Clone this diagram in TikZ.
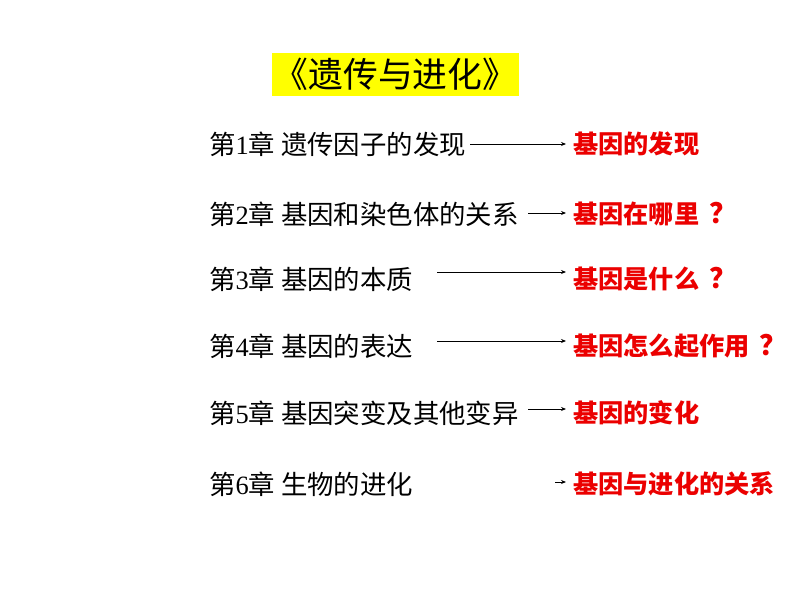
\documentclass[tikz,border=0pt]{standalone}
\usepackage{fontspec}
\setmainfont{Noto Sans CJK SC}
\newfontfamily\cjk{Noto Sans CJK SC}
\newfontfamily\digitfont{Liberation Serif}
\usetikzlibrary{arrows.meta}
\definecolor{hired}{RGB}{235,0,0}
\definecolor{hiyellow}{RGB}{255,255,0}
\newcommand{\dg}[1]{{\digitfont #1}}
\newcommand{\qm}{\hspace{10pt}{\fontsize{28}{28}\selectfont ？}}
\tikzset{
  chap/.style={anchor=west, inner sep=0pt, font=\cjk\fontsize{26.4}{30}\selectfont},
  ans/.style={anchor=west, inner sep=0pt, text=hired, font=\cjk\bfseries\fontsize{25.2}{28}\selectfont},
  arr/.style={-{Stealth[length=5pt,width=4pt]}, line width=0.9pt, shorten >=7pt},
  titlebox/.style={fill=hiyellow, inner sep=0pt, font=\cjk\fontsize{34.8}{40}\selectfont}
}
\begin{document}
\begin{tikzpicture}[x=1pt,y=1pt]
\useasboundingbox[fill=white] (0,0) rectangle (794,-596);
\node[titlebox, minimum width=247pt, minimum height=43pt] (title) at (395.5,-74.5) {《遗传与进化》};

\node[chap] (c1) at (209,-144) {第\dg{1}章 遗传因子的发现};
\node[chap] (c2) at (209,-214) {第\dg{2}章 基因和染色体的关系};
\node[chap] (c3) at (209,-279) {第\dg{3}章 基因的本质};
\node[chap] (c4) at (209,-346) {第\dg{4}章 基因的表达};
\node[chap] (c5) at (209,-413) {第\dg{5}章 基因突变及其他变异};
\node[chap] (c6) at (209,-484) {第\dg{6}章 生物的进化};

\node[ans] (a1) at (573,-144) {基因的发现};
\node[ans] (a2) at (573,-214) {基因在哪里\qm};
\node[ans] (a3) at (573,-279) {基因是什么\qm};
\node[ans] (a4) at (573,-346) {基因怎么起作用\qm};
\node[ans] (a5) at (573,-413) {基因的变化};
\node[ans] (a6) at (573,-484) {基因与进化的关系};

\coordinate (s1) at (470,-144);
\coordinate (s2) at (528,-213);
\coordinate (s3) at (437,-272);
\coordinate (s4) at (437,-341);
\coordinate (s5) at (528,-409);
\coordinate (s6) at (555,-482);

\draw[arr] (s1) -- (s1 -| a1.west);
\draw[arr] (s2) -- (s2 -| a2.west);
\draw[arr] (s3) -- (s3 -| a3.west);
\draw[arr] (s4) -- (s4 -| a4.west);
\draw[arr] (s5) -- (s5 -| a5.west);
\draw[arr] (s6) -- (s6 -| a6.west);
\end{tikzpicture}
\end{document}
